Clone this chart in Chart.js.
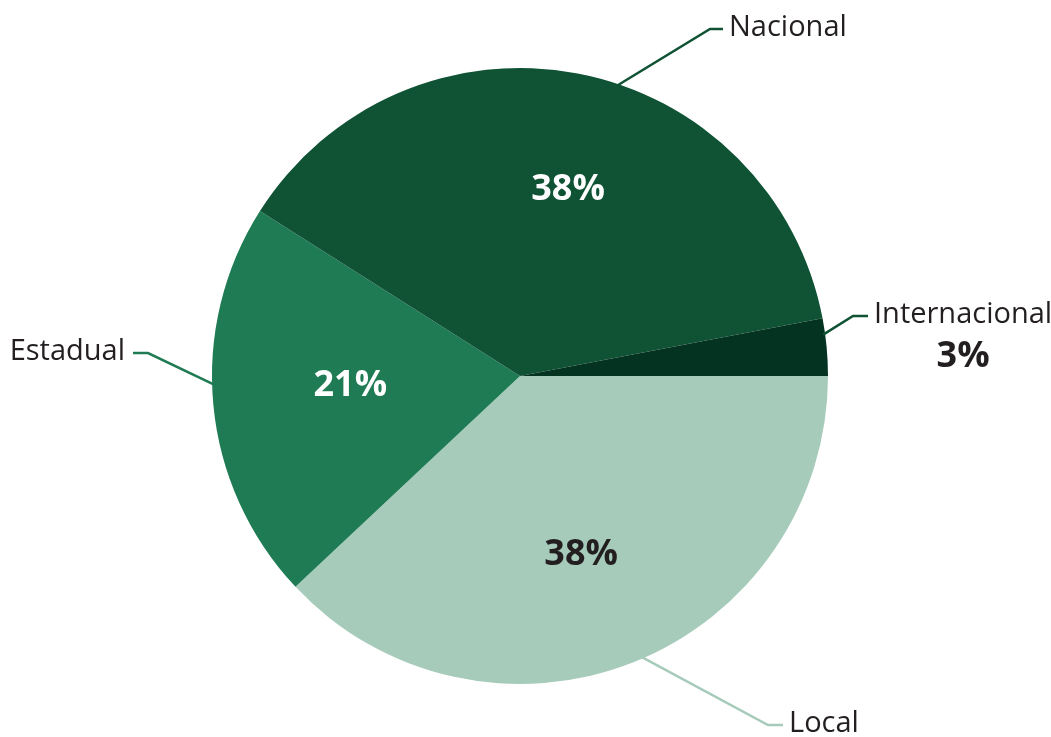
<!DOCTYPE html>
<html>
<head>
<meta charset="utf-8">
<script src="https://cdn.jsdelivr.net/npm/chart.js@4.4.1/dist/chart.umd.min.js"></script>
<style>
  html, body { margin: 0; padding: 0; background: #fff; }
  #wrap { width: 1051px; height: 737px; }
</style>
</head>
<body>
<div id="wrap"><canvas id="chart"></canvas></div>
<script>
const categories = ['Local', 'Estadual', 'Nacional', 'Internacional'];
const shares = [38, 21, 38, 3];
const sliceColors = ['#a6cbbb', '#1e7b53', '#0f5234', '#043322'];
const pctColors = ['#231f20', '#ffffff', '#ffffff', '#231f20'];
const leaderColors = ['#a6cbbb', '#1e7b53', '#0f5234', '#0f5234'];

// where each callout sits (relative to pie centre) and where its leader touches the rim
const callouts = [
    { at: 0.487, elbow: [248, 349], run: 15, side: 'right', pctInside: true },
    { at: 0.55, elbow: [-372, -23], run: -15, side: 'left', pctInside: true },
    { at: 0.556, elbow: [190, -347], run: 13, side: 'right', pctInside: true },
    { at: 0.28, elbow: [333, -60], run: 15, side: 'right', pctInside: false },
];
const insideLabel = [
    { at: 0.52, r: 0.614 },
    { at: 0.526, r: 0.552 },
    { at: 0.527, r: 0.623 },
    null,
];

const FONT = '"Open Sans", "Noto Sans", sans-serif';
const NAME_FONT = '400 29px ' + FONT;
const PCT_FONT = '700 36px ' + FONT;

const calloutPlugin = {
    id: 'callouts',
    afterDatasetsDraw(chart) {
        const ctx = chart.ctx;
        const arcs = chart.getDatasetMeta(0).data;
        arcs.forEach((arc, i) => {
            const { x, y, startAngle, endAngle, outerRadius } = arc.getProps(['x', 'y', 'startAngle', 'endAngle', 'outerRadius'], true);
            const c = callouts[i];
            const a = startAngle + (endAngle - startAngle) * c.at;
            const sx = x + Math.cos(a) * (outerRadius - 2);
            const sy = y + Math.sin(a) * (outerRadius - 2);
            const ex = x + c.elbow[0];
            const ey = y + c.elbow[1];

            ctx.save();
            ctx.strokeStyle = leaderColors[i];
            ctx.lineWidth = 2.5;
            ctx.beginPath();
            ctx.moveTo(sx, sy);
            ctx.lineTo(ex, ey);
            ctx.lineTo(ex + c.run, ey);
            ctx.stroke();

            ctx.fillStyle = '#231f20';
            ctx.font = NAME_FONT;
            ctx.textBaseline = 'middle';
            const tx = c.side === 'right' ? ex + c.run + 6 : ex + c.run - 8;
            ctx.textAlign = c.side === 'right' ? 'left' : 'right';
            ctx.fillText(categories[i], tx, ey - 1);
            const nameW = ctx.measureText(categories[i]).width;

            const pct = shares[i] + '%';
            ctx.font = PCT_FONT;
            ctx.textAlign = 'center';
            ctx.fillStyle = pctColors[i];
            if (c.pctInside) {
                const L = insideLabel[i];
                const la = startAngle + (endAngle - startAngle) * L.at;
                ctx.fillText(pct, x + Math.cos(la) * outerRadius * L.r, y + Math.sin(la) * outerRadius * L.r);
            } else {
                ctx.fillText(pct, tx + nameW / 2, ey + 41);
            }
            ctx.restore();
        });
    },
};

new Chart(document.getElementById('chart'), {
    type: 'pie',
    data: {
        labels: categories,
        datasets: [{
            data: shares,
            backgroundColor: sliceColors,
            borderWidth: 0,
        }],
    },
    options: {
        responsive: true,
        maintainAspectRatio: false,
        animation: false,
        rotation: 90,
        layout: { padding: { left: 212, right: 223, top: 68, bottom: 53 } },
        plugins: {
            legend: { display: false },
            tooltip: { enabled: false },
        },
    },
    plugins: [calloutPlugin],
});
</script>
</body>
</html>
